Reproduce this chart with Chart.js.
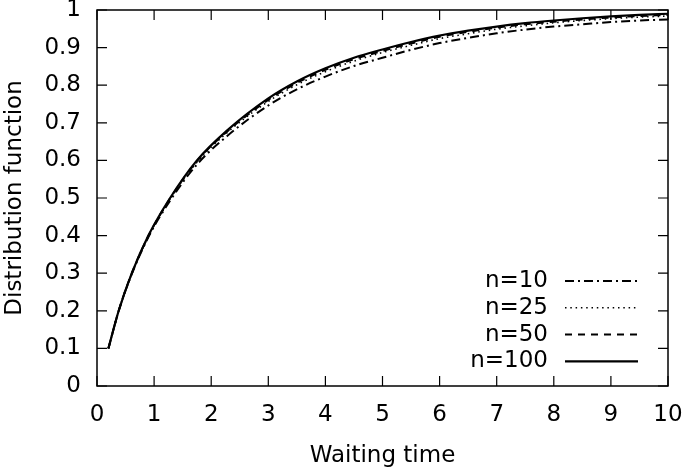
<!DOCTYPE html>
<html>
<head>
<meta charset="utf-8">
<script src="https://cdn.jsdelivr.net/npm/chart.js@4.4.1/dist/chart.umd.min.js"></script>
<style>
  body { margin: 0; background: #fff; }
  canvas { display: block; }
</style>
</head>
<body>
<canvas id="chart" width="685" height="468"></canvas>
<script>
// Waiting time values (x) shared by all curves
const waitTimes = [0.2, 0.38, 0.61, 0.9, 1.28, 1.75, 2.28, 3, 3.5, 4, 4.5, 5, 5.5, 6, 6.5, 7, 7.5, 8, 8.5, 9, 9.5, 10];

// Distribution function
const n10  = [0.10, 0.20, 0.298, 0.396, 0.493, 0.589, 0.665, 0.746, 0.789, 0.823, 0.851, 0.873, 0.894, 0.912, 0.926, 0.938, 0.948, 0.956, 0.962, 0.968, 0.972, 0.975];
const n25  = [0.10, 0.20, 0.299, 0.398, 0.497, 0.595, 0.674, 0.757, 0.801, 0.836, 0.864, 0.887, 0.906, 0.924, 0.937, 0.949, 0.958, 0.966, 0.972, 0.977, 0.981, 0.984];
const n50  = [0.10, 0.20, 0.300, 0.399, 0.499, 0.598, 0.677, 0.761, 0.806, 0.841, 0.869, 0.891, 0.911, 0.929, 0.942, 0.953, 0.962, 0.969, 0.975, 0.980, 0.984, 0.987];
const n100 = [0.10, 0.20, 0.300, 0.400, 0.500, 0.600, 0.680, 0.765, 0.810, 0.845, 0.873, 0.895, 0.915, 0.932, 0.945, 0.956, 0.965, 0.972, 0.978, 0.983, 0.987, 0.990];

const seriesLabels = ['n=10', 'n=25', 'n=50', 'n=100'];
const xTicks = [0, 1, 2, 3, 4, 5, 6, 7, 8, 9, 10];
const yTicks = [0, 0.1, 0.2, 0.3, 0.4, 0.5, 0.6, 0.7, 0.8, 0.9, 1];

const FONT = 'DejaVu Sans';

function toPoints(ys) {
  return waitTimes.map((x, i) => ({ x: x, y: ys[i] }));
}

function makeDataset(label, ys, dash, width, order) {
  return {
    label: label,
    data: toPoints(ys),
    borderColor: '#000',
    borderWidth: width,
    borderDash: dash,
    borderCapStyle: 'butt',
    pointRadius: 0,
    cubicInterpolationMode: 'monotone',
    fill: false,
    order: order
  };
}

// border, inward ticks on all four sides and the key inside the plot
const framePlugin = {
  id: 'frame',
  afterDraw(chart) {
    const ctx = chart.ctx;
    const a = chart.chartArea;
    const xs = chart.scales.x;
    const ys = chart.scales.y;
    const tick = 10;

    ctx.save();
    ctx.strokeStyle = '#000';
    ctx.lineWidth = 1.2;
    ctx.setLineDash([]);
    ctx.beginPath();
    xTicks.forEach(v => {
      const px = xs.getPixelForValue(v);
      ctx.moveTo(px, a.bottom); ctx.lineTo(px, a.bottom - tick);
      ctx.moveTo(px, a.top); ctx.lineTo(px, a.top + tick);
    });
    yTicks.forEach(v => {
      const py = ys.getPixelForValue(v);
      ctx.moveTo(a.left, py); ctx.lineTo(a.left + tick, py);
      ctx.moveTo(a.right, py); ctx.lineTo(a.right - tick, py);
    });
    ctx.stroke();
    ctx.lineWidth = 1.5;
    ctx.strokeRect(a.left, a.top, a.right - a.left, a.bottom - a.top);

    // key
    ctx.font = '23px "' + FONT + '"';
    ctx.fillStyle = '#000';
    ctx.textAlign = 'right';
    ctx.textBaseline = 'middle';
    chart.data.datasets.forEach((ds, i) => {
      const y = a.bottom - 105 + i * 26.8;
      ctx.fillText(ds.label, a.right - 120, y);
      ctx.lineWidth = ds.borderWidth;
      ctx.setLineDash(ds.borderDash);
      ctx.beginPath();
      ctx.moveTo(a.right - 103, y);
      ctx.lineTo(a.right - 30, y);
      ctx.stroke();
    });
    ctx.restore();
  }
};

new Chart(document.getElementById('chart'), {
  type: 'line',
  data: {
    datasets: [
      makeDataset(seriesLabels[0], n10, [9, 4, 2, 4], 2, 3),
      makeDataset(seriesLabels[1], n25, [1.5, 3.8], 1.6, 2),
      makeDataset(seriesLabels[2], n50, [7, 6], 2, 1),
      makeDataset(seriesLabels[3], n100, [], 2.2, 0)
    ]
  },
  options: {
    responsive: false,
    animation: false,
    devicePixelRatio: 1,
    layout: {
      padding: { top: 10, right: 17, left: 0, bottom: 0 }
    },
    plugins: {
      legend: { display: false },
      tooltip: { enabled: false }
    },
    scales: {
      x: {
        type: 'linear',
        min: 0,
        max: 10,
        grid: { display: false, drawTicks: false },
        border: { display: false },
        afterBuildTicks: scale => { scale.ticks = xTicks.map(v => ({ value: v })); },
        afterFit: scale => {
          scale.height = 82;
          scale.paddingLeft = 0; scale.paddingRight = 0;
        },
        ticks: {
          color: '#000',
          padding: 15,
          maxRotation: 0,
          autoSkip: false,
          font: { family: FONT, size: 23 },
          callback: v => String(v)
        },
        title: {
          display: true,
          text: 'Waiting time',
          color: '#000',
          padding: { top: 0, bottom: -2 },
          font: { family: FONT, size: 23 }
        }
      },
      y: {
        type: 'linear',
        min: 0,
        max: 1,
        grid: { display: false, drawTicks: false },
        border: { display: false },
        afterBuildTicks: scale => { scale.ticks = yTicks.map(v => ({ value: v })); },
        afterFit: scale => {
          scale.width = 97;
          scale.paddingTop = 0; scale.paddingBottom = 0;
        },
        ticks: {
          color: '#000',
          padding: 16,
          autoSkip: false,
          font: { family: FONT, size: 23 },
          callback: v => String(+v.toFixed(1))
        },
        title: {
          display: true,
          text: 'Distribution function',
          color: '#000',
          padding: { top: 1, bottom: 0 },
          font: { family: FONT, size: 23 }
        }
      }
    }
  },
  plugins: [framePlugin]
});
</script>
</body>
</html>
